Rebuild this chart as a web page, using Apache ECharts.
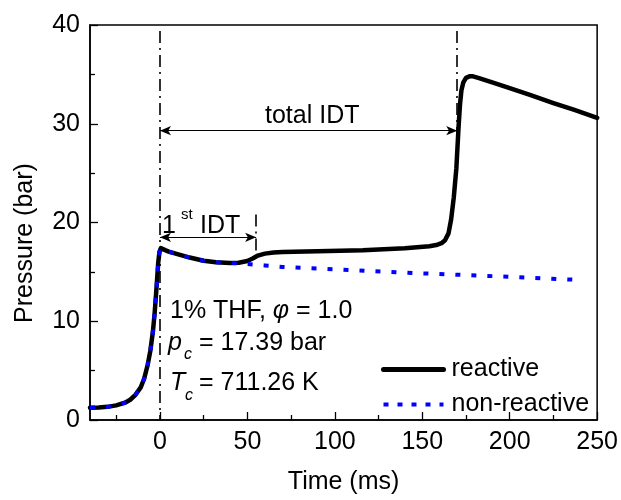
<!DOCTYPE html>
<html><head><meta charset="utf-8">
<script src="https://cdn.jsdelivr.net/npm/echarts@6/dist/echarts.min.js"></script>
<style>html,body{margin:0;padding:0;background:#fff}#c{width:621px;height:500px}</style>
</head><body><div id="c"></div>
<script>
var timeReactive = [-40,-35,-30,-25,-20,-17,-14,-11,-9,-7,-5.5,-4,-3,-2,-1,-0.3,0.5,1.5,3,5,10,17,25,32,40,45,50,53,56,60,65,70,90,116,140,154,158,161,163,165,166.5,168,169.5,170.8,171.6,172.4,173.5,175,177,179,182,190,200,212,225,237,250];
var presReactive = [1.25,1.27,1.33,1.48,1.75,2.05,2.55,3.3,4.2,5.6,7.0,9.0,10.9,13.3,15.9,17.0,17.4,17.35,17.2,17.05,16.8,16.45,16.12,15.97,15.9,15.92,16.1,16.35,16.65,16.85,16.97,17.02,17.1,17.2,17.4,17.6,17.72,17.9,18.2,18.9,20.3,22.5,25.5,29.8,32.0,33.4,34.2,34.65,34.8,34.8,34.65,34.2,33.6,32.9,32.1,31.4,30.6];
var timeNonReactive = [-40,-35,-30,-25,-20,-17,-14,-11,-9,-7,-5.5,-4,-3,-2,-1,-0.3,0.5,1.5,3,5,10,17,25,32,40,45,50,60,70,100,150,200,238];
var presNonReactive = [1.25,1.27,1.33,1.48,1.75,2.05,2.55,3.3,4.2,5.6,7.0,9.0,10.9,13.3,15.9,17.0,17.4,17.35,17.2,17.05,16.8,16.45,16.12,15.97,15.9,15.85,15.8,15.65,15.5,15.25,14.85,14.5,14.2];
var xMajorTicks = [0,50,100,150,200,250];
var xMinorTicks = [-25,25,75,125,175,225];
var seriesNames = ['reactive','non-reactive'];
// annotation values (data coordinates)
var totalIDT = 170, firstIDT = 55, totalArrowY = 29.3, firstArrowY = 18.5;

function zip(a,b){return a.map(function(v,i){return [v,b[i]];});}
var F = "'Liberation Sans', Arial, sans-serif";
var FS = 25;
var chart = echarts.init(document.getElementById('c'));
var dashDot = {color:'#000', width:1.6, type:[12,5,2,5]};
var arrowStyle = {color:'#000', width:1.2, type:'solid'};
var option = {
  animation:false,
  backgroundColor:'#fff',
  grid:{left:90,right:23,top:25,bottom:76,show:true,borderColor:'#000',borderWidth:1.5,backgroundColor:'transparent'},
  legend:{orient:'vertical',left:376,top:352,itemWidth:60,itemHeight:22,itemGap:10,
    itemStyle:{opacity:0},
    textStyle:{fontSize:FS,color:'#000',fontFamily:F,padding:[0,0,0,3]},
    data:[{name:seriesNames[0],lineStyle:{width:5,color:'#000'}},
          {name:seriesNames[1],lineStyle:{width:4,color:'#0000ff',type:[5,9]}}]},
  xAxis:[{type:'value',min:-40,max:250,
    name:'Time (ms)',nameLocation:'middle',nameGap:50,
    nameTextStyle:{fontSize:FS,color:'#000',fontFamily:F},
    axisLine:{show:true,onZero:false,lineStyle:{color:'#000',width:1.5}},
    axisTick:{show:true,inside:true,length:8,customValues:xMajorTicks,lineStyle:{color:'#000',width:1.3}},
    axisLabel:{customValues:xMajorTicks,fontSize:FS,color:'#000',fontFamily:F,margin:10},
    splitLine:{show:false}},
   {type:'value',min:-40,max:250,position:'bottom',gridIndex:0,
    axisLine:{show:false,onZero:false},axisLabel:{show:false},splitLine:{show:false},
    axisTick:{show:true,inside:true,length:5,customValues:xMinorTicks,lineStyle:{color:'#000',width:1.3}}}],
  yAxis:{type:'value',min:0,max:40,interval:10,
    axisLine:{show:true,onZero:false,lineStyle:{color:'#000',width:1.5}},
    axisTick:{show:true,inside:true,length:8,lineStyle:{color:'#000',width:1.3}},
    minorTick:{show:true,splitNumber:2,length:5,lineStyle:{color:'#000',width:1.3}},
    axisLabel:{fontSize:FS,color:'#000',fontFamily:F,margin:10},
    splitLine:{show:false}},
  series:[
   {name:seriesNames[0],type:'line',data:zip(timeReactive,presReactive),symbol:'none',
    smooth:false,
    lineStyle:{color:'#000',width:4.5,join:'round',cap:'round'},itemStyle:{color:'#000'},z:3,
    markLine:{silent:true,symbol:['none','none'],label:{show:false},z:2,
      data:[
        [{coord:[0,39.4],lineStyle:dashDot},{coord:[0,0]}],
        [{coord:[totalIDT,39.4],lineStyle:dashDot},{coord:[totalIDT,29]}],
        [{coord:[firstIDT,20.8],lineStyle:dashDot},{coord:[firstIDT,16.7]}],
        [{coord:[0,totalArrowY],lineStyle:arrowStyle,symbol:'arrow',symbolSize:[7,11]},{coord:[totalIDT,totalArrowY],symbol:'arrow',symbolSize:[7,11]}],
        [{coord:[0,firstArrowY],lineStyle:arrowStyle,symbol:'arrow',symbolSize:[7,11]},{coord:[firstIDT,firstArrowY],symbol:'arrow',symbolSize:[7,11]}]
      ]}},
   {name:seriesNames[1],type:'line',data:zip(timeNonReactive,presNonReactive),symbol:'none',
    smooth:false,
    lineStyle:{color:'#0000ff',width:4,type:[5,11]},itemStyle:{color:'#0000ff'},z:4}
  ],
  graphic:[
    {type:'text',x:25,y:243,rotation:Math.PI/2,style:{text:'Pressure (bar)',fontSize:FS,fill:'#000',fontFamily:F,align:'center',verticalAlign:'middle'}},
    {type:'text',left:265,top:104,style:{text:'total IDT',fontSize:FS,fill:'#000',fontFamily:F}},
    {type:'text',left:162,top:214,style:{text:'1',fontSize:FS,fill:'#000',fontFamily:F}},
    {type:'text',left:181,top:207,style:{text:'st',fontSize:15,fill:'#000',fontFamily:F}},
    {type:'text',left:200,top:214,style:{text:'IDT',fontSize:FS,fill:'#000',fontFamily:F}},
    {type:'text',left:170,top:299,style:{rich:{n:{fontSize:FS,fontFamily:F,fill:'#000'},i:{fontSize:FS,fontFamily:F,fontStyle:'italic',fill:'#000'}},text:'{n|1% THF, }{i|\u03c6}{n| = 1.0}'}},
    {type:'text',left:168,top:331,style:{text:'p',fontSize:FS,fontStyle:'italic',fill:'#000',fontFamily:F}},
    {type:'text',left:184,top:347,style:{text:'c',fontSize:16,fontStyle:'italic',fill:'#000',fontFamily:F}},
    {type:'text',left:199,top:331,style:{text:'= 17.39 bar',fontSize:FS,fill:'#000',fontFamily:F}},
    {type:'text',left:170,top:371,style:{text:'T',fontSize:FS,fontStyle:'italic',fill:'#000',fontFamily:F}},
    {type:'text',left:185,top:388,style:{text:'c',fontSize:16,fontStyle:'italic',fill:'#000',fontFamily:F}},
    {type:'text',left:199,top:371,style:{text:'= 711.26 K',fontSize:FS,fill:'#000',fontFamily:F}}
  ]
};
chart.setOption(option);
</script></body></html>
